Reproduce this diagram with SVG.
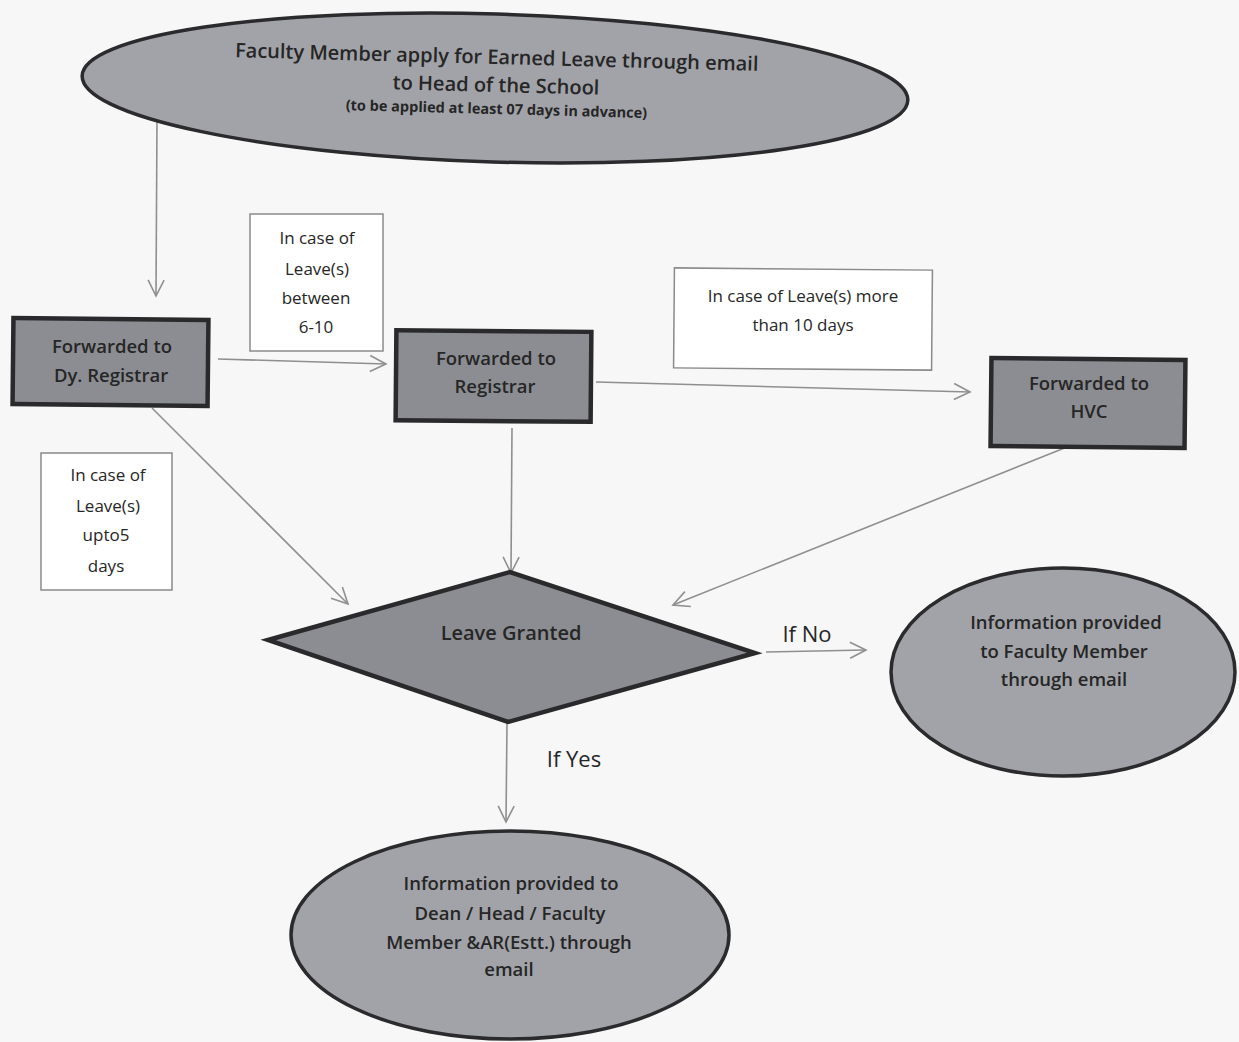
<svg xmlns="http://www.w3.org/2000/svg" width="1239" height="1042" viewBox="0 0 1239 1042">
  <style>
    text { font-family: "Open Sans", Lato, "Liberation Sans", sans-serif; fill: #262626; text-anchor: middle; }
    .oval { fill: #a2a3a8; stroke: #2b2b2e; stroke-width: 3.5; }
    .proc { fill: #8c8d92; stroke: #2a2a2c; stroke-width: 4.5; }
    .dec { fill: #8c8d92; stroke: #2a2a2c; stroke-width: 4.5; stroke-linejoin: miter; }
    .note { fill: #ffffff; stroke: #8a8a8a; stroke-width: 1.5; }
    .t-main { font-size: 20px; font-weight: 600; }
    .t-small { font-size: 14.5px; font-weight: 700; }
    .t-node { font-size: 18.5px; font-weight: 600; }
    .t-note { font-size: 17px; }
    .t-lbl { font-size: 22px; }
    .edge { fill: none; stroke: #8f8f8f; stroke-width: 1.6; }
  </style>
  <defs>
    <marker id="arr" viewBox="0 0 20 20" refX="18" refY="10" markerWidth="20" markerHeight="20" markerUnits="userSpaceOnUse" orient="auto">
      <path d="M2,2 L18,10 L2,18" fill="none" stroke="#8f8f8f" stroke-width="1.6"/>
    </marker>
  </defs>

  <rect width="1239" height="1042" fill="#f7f7f8"/>

  <!-- connectors -->
  <g id="connectors">
    <path class="edge" d="M157,120 L156,296" marker-end="url(#arr)"/>
    <path class="edge" d="M218,359 L386,364" marker-end="url(#arr)"/>
    <path class="edge" d="M596,382 L970,392" marker-end="url(#arr)"/>
    <path class="edge" d="M152,408 L348,604" marker-end="url(#arr)"/>
    <path class="edge" d="M512,428 L511,573" marker-end="url(#arr)"/>
    <path class="edge" d="M1067,447 L673,605" marker-end="url(#arr)"/>
    <path class="edge" d="M766,652 L866,650" marker-end="url(#arr)"/>
    <path class="edge" d="M507,722 L506,822" marker-end="url(#arr)"/>
    <text class="t-lbl" x="807" y="642">If No</text>
    <text class="t-lbl" x="574" y="767">If Yes</text>
  </g>

  <!-- start: application -->
  <g id="apply">
    <ellipse class="oval" cx="495" cy="88" rx="413" ry="74" transform="rotate(1.7 495 88)"/>
    <g transform="rotate(1.5 495 87)">
      <text class="t-main" x="496" y="64">Faculty Member apply for Earned Leave through email</text>
      <text class="t-main" x="496" y="92">to Head of the School</text>
      <text class="t-small" x="497" y="114">(to be applied at least 07 days in advance)</text>
    </g>
  </g>

  <!-- forwarding steps -->
  <g id="dy-registrar">
    <rect class="proc" x="13" y="319" width="195" height="86" transform="rotate(0.6 110 362)"/>
    <text class="t-node" x="112" y="353">Forwarded to</text>
    <text class="t-node" x="111" y="382">Dy. Registrar</text>
  </g>

  <g id="registrar">
    <rect class="proc" x="396" y="331" width="195" height="90" transform="rotate(0.5 493 376)"/>
    <text class="t-node" x="496" y="365">Forwarded to</text>
    <text class="t-node" x="495" y="393">Registrar</text>
  </g>

  <g id="hvc">
    <rect class="proc" x="991" y="359" width="194" height="88" transform="rotate(0.6 1088 403)"/>
    <text class="t-node" x="1089" y="390">Forwarded to</text>
    <text class="t-node" x="1089" y="418">HVC</text>
  </g>

  <!-- condition notes -->
  <g id="note-6-10">
    <rect class="note" x="250" y="214" width="133" height="137"/>
    <text class="t-note" x="317" y="244">In case of</text>
    <text class="t-note" x="317" y="275">Leave(s)</text>
    <text class="t-note" x="316" y="304">between</text>
    <text class="t-note" x="316" y="333">6-10</text>
  </g>

  <g id="note-more-10">
    <rect class="note" x="674" y="269" width="258" height="100" transform="rotate(0.5 803 319)"/>
    <text class="t-note" x="803" y="302">In case of Leave(s) more</text>
    <text class="t-note" x="803" y="331">than 10 days</text>
  </g>

  <g id="note-upto-5">
    <rect class="note" x="41" y="453" width="131" height="137"/>
    <text class="t-note" x="108" y="481">In case of</text>
    <text class="t-note" x="108" y="512">Leave(s)</text>
    <text class="t-note" x="106" y="541">upto5</text>
    <text class="t-note" x="106" y="572">days</text>
  </g>

  <!-- decision -->
  <g id="leave-granted">
    <polygon class="dec" points="268,640 510,572 755,653 508,722"/>
    <text class="t-node" x="511" y="640" style="font-size:20px">Leave Granted</text>
  </g>

  <!-- outcomes -->
  <g id="info-rejected">
    <ellipse class="oval" cx="1063" cy="672" rx="172" ry="104"/>
    <text class="t-node" x="1066" y="629">Information provided</text>
    <text class="t-node" x="1064" y="658">to Faculty Member</text>
    <text class="t-node" x="1064" y="686">through email</text>
  </g>

  <g id="info-granted">
    <ellipse class="oval" cx="510" cy="935" rx="219" ry="104"/>
    <text class="t-node" x="511" y="890">Information provided to</text>
    <text class="t-node" x="510" y="920">Dean / Head / Faculty</text>
    <text class="t-node" x="509" y="949">Member &amp;AR(Estt.) through</text>
    <text class="t-node" x="509" y="976">email</text>
  </g>
</svg>
